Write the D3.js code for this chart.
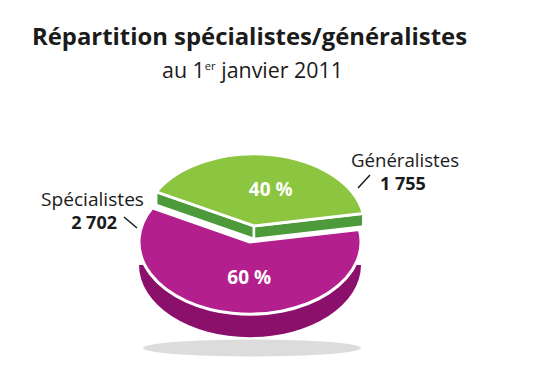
<!DOCTYPE html>
<html>
<head>
<meta charset="utf-8">
<script src="https://cdn.jsdelivr.net/npm/d3@7"></script>
<style>
  body { margin: 0; background: #fff; }
  svg { display: block; }
  text { font-family: "Open Sans", sans-serif; fill: #1b1b1b; }
</style>
</head>
<body>
<svg id="chart" width="533" height="388"></svg>
<script>
// data
var categories = ["Spécialistes", "Généralistes"];
var values = [2702, 1755];
var valueLabels = ["2 702", "1 755"];
var percentLabels = ["60 %", "40 %"];
var topColors = ["#b41f8e", "#8cc540"];
var sideColors = ["#8b106c", "#4c9a39"];

var svg = d3.select("#chart");

var cx = 250, cy = 242,
    rx = 111, tilt = 0.65,      // ellipse = circle squashed in y
    depth = 23, wallDepth = 13,
    explode = 25;

var pie = d3.pie().sort(null).value(function(d) { return d; })
    .startAngle(80 * Math.PI / 180)
    .endAngle(440 * Math.PI / 180);
var slices = pie(values);

var arc = d3.arc().innerRadius(0).outerRadius(rx);
var labelArc = d3.arc().innerRadius(rx * 0.5).outerRadius(rx * 0.5);

function offset(d, i) {
  if (i === 0) return [0, 0];
  var m = (d.startAngle + d.endAngle) / 2;
  return [explode * Math.sin(m), -explode * Math.cos(m) * tilt];
}
function rimPoint(a, o) {
  return [cx + o[0] + rx * Math.sin(a), cy + o[1] - rx * tilt * Math.cos(a)];
}

// title
svg.append("text")
    .attr("x", 32).attr("y", 45)
    .attr("textLength", 435).attr("lengthAdjust", "spacingAndGlyphs")
    .style("font-size", "24px").style("font-weight", 700)
    .text("Répartition spécialistes/généralistes");

var sub = svg.append("text")
    .attr("x", 162).attr("y", 78)
    .attr("textLength", 181).attr("lengthAdjust", "spacingAndGlyphs")
    .style("font-size", "21px");
sub.append("tspan").text("au 1");
sub.append("tspan").attr("dy", -8).style("font-size", "11px").text("er");
sub.append("tspan").attr("dy", 8).text(" janvier 2011");

// shadow
svg.append("ellipse")
    .attr("cx", 252).attr("cy", 348)
    .attr("rx", 109).attr("ry", 8.5)
    .attr("fill", "#dcdcdc");

// bowl-like side under the big slice: lower half of the rim pushed down
var side = d3.path();
var D = depth / tilt;
side.moveTo(-rx, D);
side.arc(0, D, rx, Math.PI, 0, true);
side.closePath();
svg.append("path")
    .attr("d", side.toString())
    .attr("transform", "translate(" + cx + "," + cy + ") scale(1," + tilt + ")")
    .attr("fill", sideColors[0]);

// walls of the pulled-out slice
var g = slices[1], go = offset(g, 1);
var v = [cx + go[0], cy + go[1]];
[g.startAngle, g.endAngle].forEach(function(a) {
  var p = rimPoint(a, go);
  var pts = [v, p, [p[0], p[1] + wallDepth], [v[0], v[1] + wallDepth]];
  svg.append("path")
      .attr("d", "M" + pts.join("L") + "Z")
      .attr("fill", sideColors[1])
      .attr("stroke", "#fff").attr("stroke-width", 2.5)
      .attr("stroke-linejoin", "round");
});

// tops: green first (behind), then magenta
[1, 0].forEach(function(i) {
  var d = slices[i], o = offset(d, i);
  svg.append("path")
      .attr("d", arc(d))
      .attr("transform", "translate(" + (cx + o[0]) + "," + (cy + o[1]) + ") scale(1," + tilt + ")")
      .attr("fill", topColors[i])
      .attr("stroke", "#fff").attr("stroke-width", 3)
      .attr("vector-effect", "non-scaling-stroke")
      .attr("stroke-linejoin", "round");
});

// percentages
slices.forEach(function(d, i) {
  var o = offset(d, i), c = labelArc.centroid(d);
  svg.append("text")
      .attr("x", cx + o[0] + c[0] + 8)
      .attr("y", cy + o[1] + c[1] * tilt + 6)
      .attr("text-anchor", "middle")
      .style("font-size", "19px").style("font-weight", 700)
      .style("fill", "#fff")
      .text(percentLabels[i]);
});

// category labels with leader lines
svg.append("text").attr("x", 41).attr("y", 206)
    .attr("textLength", 103).attr("lengthAdjust", "spacingAndGlyphs")
    .style("font-size", "18px").text(categories[0]);
svg.append("text").attr("x", 117).attr("y", 229).attr("text-anchor", "end")
    .style("font-size", "18px").style("font-weight", 700).text(valueLabels[0]);
svg.append("line").attr("x1", 124).attr("y1", 217).attr("x2", 137).attr("y2", 228)
    .attr("stroke", "#1b1b1b").attr("stroke-width", 1.5);

svg.append("text").attr("x", 351).attr("y", 167)
    .attr("textLength", 108).attr("lengthAdjust", "spacingAndGlyphs")
    .style("font-size", "18px").text(categories[1]);
svg.append("text").attr("x", 380).attr("y", 190)
    .style("font-size", "18px").style("font-weight", 700).text(valueLabels[1]);
svg.append("line").attr("x1", 358).attr("y1", 188).attr("x2", 370).attr("y2", 175)
    .attr("stroke", "#1b1b1b").attr("stroke-width", 1.5);
</script>
</body>
</html>
